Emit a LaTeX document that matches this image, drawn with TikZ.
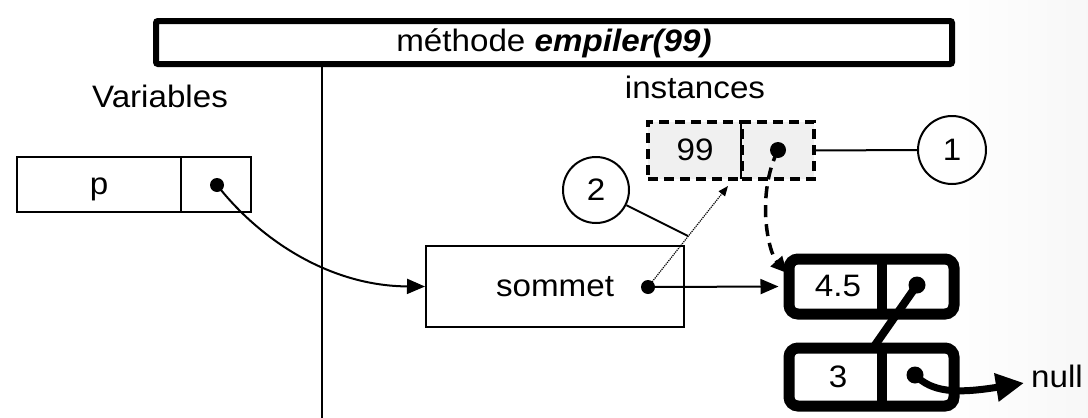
\documentclass[tikz,border=0pt]{standalone}
\usepackage{fontspec}
\setmainfont{Liberation Sans}[FakeStretch=1.07]
\usetikzlibrary{arrows.meta}
\begin{document}
\begin{tikzpicture}[x=1pt,y=-1pt,
  lbl/.style={font=\fontsize{31}{36}\selectfont, inner sep=0pt},
  cell/.style={draw, line width=2pt, inner sep=0pt, fill=white, font=\fontsize{31}{36}\selectfont, text height=24pt, text depth=4pt},
  dcell/.style={draw, line width=3.5pt, dash pattern=on 10pt off 6pt, fill=gray!12, inner sep=0pt, font=\fontsize{31}{36}\selectfont, text height=24pt, text depth=4pt},
  thickbox/.style={draw, line width=11pt, rounded corners=9pt, fill=white, inner sep=0pt},
  dot/.style={circle, fill=black, inner sep=0pt, minimum size=#1},
  dot/.default=14pt,
  numcircle/.style={circle, draw, line width=2pt, minimum size=68pt, inner sep=0pt, font=\fontsize{31}{36}\selectfont},
  thin/.style={line width=2pt},
  tip/.style={-{Triangle[length=18pt,width=15pt]}}]
\useasboundingbox (0,0) rectangle (1088,418);
\shade[left color=white, right color=gray!6] (940,0) rectangle (1088,418);

% title and separator
\node[draw, line width=6pt, rounded corners=2pt, minimum width=796pt, minimum height=43pt, lbl, fill=white, text height=24pt, text depth=6pt] (title) at (554,42.5) {méthode \textbf{\textit{empiler(99)}}};
\coordinate (vtop) at (322,66);
\coordinate (vbot) at (322,418);
\draw[thin] (vtop) -- (vbot);
\node[lbl] (var) at (160,96) {Variables};
\node[lbl] (inst) at (695,87) {instances};

% variable p
\node[cell, minimum width=164pt, minimum height=55pt] (pcell) at (99,184.5) {p};
\node[cell, minimum width=70pt, minimum height=55pt] (pptr) at (216,184.5) {};
\node[dot=14pt] (pd) at (217,185) {};

% sommet
\node[cell, minimum width=258pt, minimum height=81pt] (som) at (555,286.5) {sommet};
\node[dot=14pt] (sd) at (648,287) {};

% new cell 99
\node[dcell, minimum width=94pt, minimum height=57pt] (n99) at (695,150.5) {99};
\node[dcell, minimum width=72pt, minimum height=57pt] (n99p) at (778,150.5) {};
\node[dot=16pt] (d99) at (778,150) {};

% circles
\node[numcircle] (c1) at (952,150) {1};
\node[numcircle, minimum size=66pt] (c2) at (596,190) {2};
\coordinate (c2e) at (688,236);
\coordinate (c99tip) at (728,186);

% existing list
\node[thickbox, minimum width=165pt, minimum height=55pt] (n45) at (871.5,286.5) {};
\draw[line width=10pt] (882,259) -- (882,314);
\node[lbl] (t45) at (838,286) {4.5};
\node[dot=17pt] (d45) at (917,285) {};

\node[thickbox, minimum width=165pt, minimum height=58pt] (n3) at (871.5,377) {};
\draw[line width=10pt] (882,348) -- (882,406);
\node[lbl] (t3) at (838,377) {3};
\node[dot=17pt] (d3) at (915,375) {};
\coordinate (l45e) at (873,348);
\coordinate (n45in) at (787,273);
\coordinate (nullpt) at (1024,383);
\node[lbl, anchor=west] (null) at (1031,376) {null};

% connectors
\draw[thin, tip] (pd.center) .. controls (260,240) and (330,286) .. (som.west);
\draw[thin, tip, shorten >=5pt] (sd.center) -- (n45.west);
\draw[line width=1.2pt, densely dotted, -{Triangle[length=10pt,width=8pt]}] (sd.center) -- (c99tip);
\draw[thin] (c2) -- (c2e);
\draw[thin] (n99p) -- (c1);
\draw[line width=3.5pt, dash pattern=on 12pt off 7pt, -{Triangle[length=16pt,width=15pt]}] (d99.center) .. controls (756,195) and (768,252) .. (n45in);
\draw[line width=8pt] (d45.center) -- (l45e);
\draw[line width=7pt, -{Triangle[length=28pt,width=27pt]}] (d3.center) .. controls (932,392) and (955,394) .. (nullpt);
\end{tikzpicture}
\end{document}
